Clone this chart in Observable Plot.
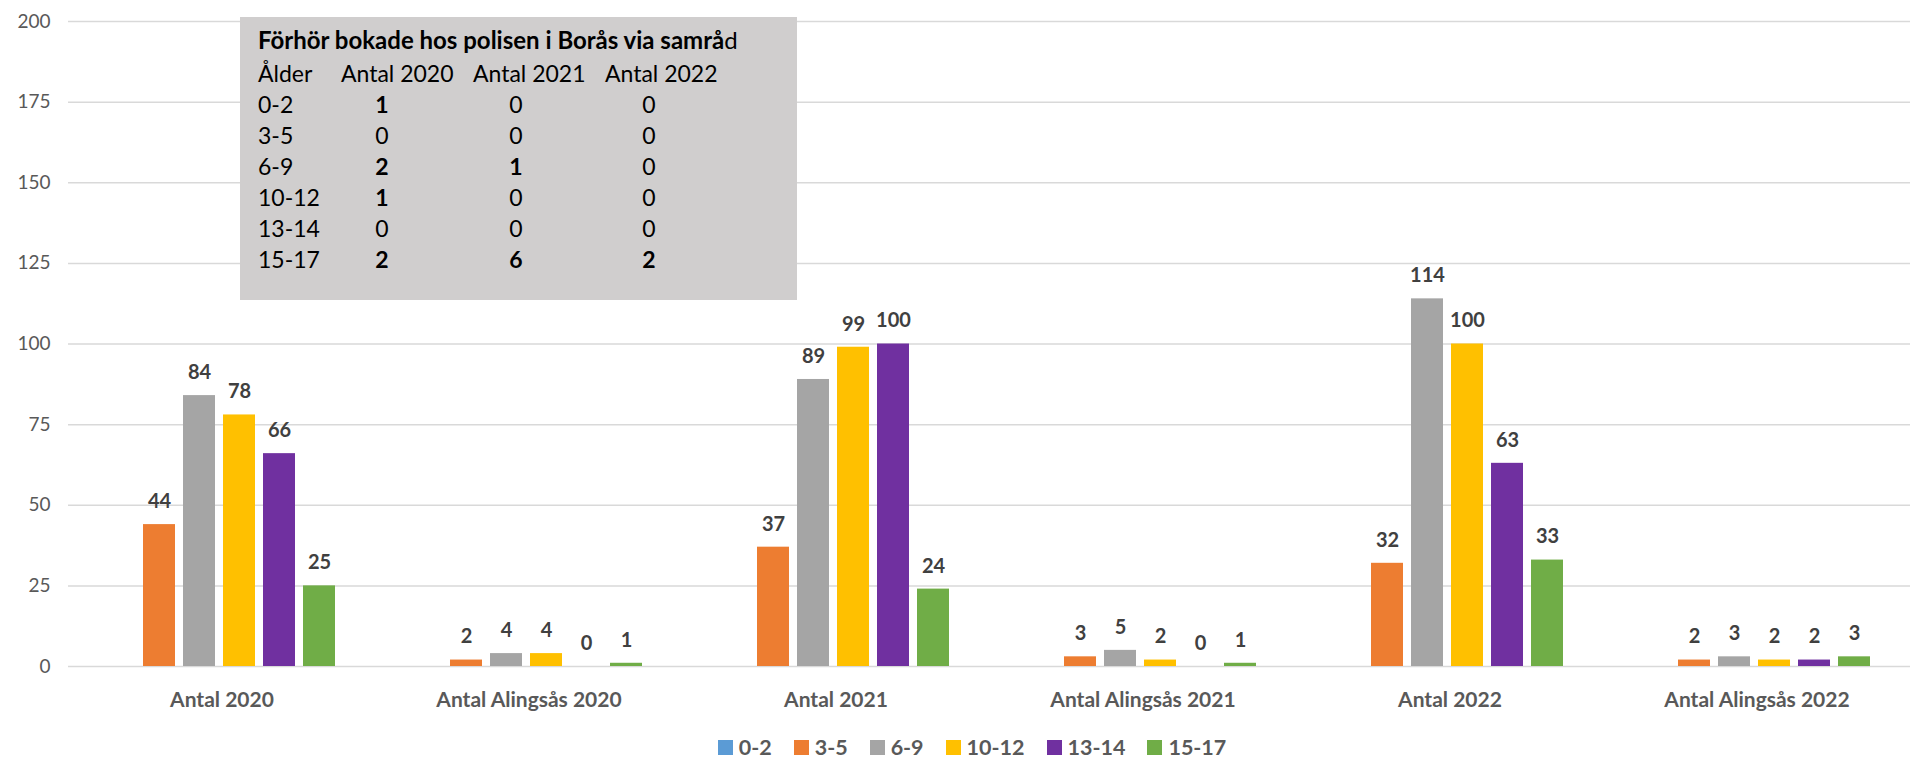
<!DOCTYPE html>
<html>
<head>
<meta charset="utf-8">
<script src="https://cdn.jsdelivr.net/npm/d3@7"></script>
<script src="https://cdn.jsdelivr.net/npm/@observablehq/plot@0.6"></script>
<style>
  html, body { margin: 0; padding: 0; background: #fff; }
  #wrap { position: relative; width: 1910px; height: 762px; font-family: Lato, "Open Sans", sans-serif; }
  #legend { position: absolute; left: 0; top: 736px; width: 1910px; box-sizing: border-box; padding-left: 34px; display: flex; justify-content: center; gap: 22px; font-weight: bold; font-size: 21.5px; line-height: 22px; color: #595959; }
  #legend .item { display: flex; align-items: center; gap: 6px; }
  #legend .sw { width: 15px; height: 15px; display: inline-block; }
  #table { position: absolute; left: 240px; top: 17px; width: 557px; height: 283px; background: #d0cece; color: #000; font-size: 23px; }
  #table div { position: absolute; white-space: nowrap; line-height: 1; transform: translateY(-50%); }
</style>
</head>
<body>
<div id="wrap">
  <div id="chart"></div>
  <div id="table"></div>
  <div id="legend"></div>
</div>
<script>
const categories = ["Antal 2020", "Antal Alingsås 2020", "Antal 2021", "Antal Alingsås 2021", "Antal 2022", "Antal Alingsås 2022"];
const ages = ["0-2", "3-5", "6-9", "10-12", "13-14", "15-17"];
const colors = ["#5b9bd5", "#ed7d31", "#a5a5a5", "#ffc000", "#7030a0", "#70ad47"];
const v_0_2   = [null, null, null, null, null, null];
const v_3_5   = [44, 2, 37, 3, 32, 2];
const v_6_9   = [84, 4, 89, 5, 114, 3];
const v_10_12 = [78, 4, 99, 2, 100, 2];
const v_13_14 = [66, 0, 100, 0, 63, 2];
const v_15_17 = [25, 1, 24, 1, 33, 3];
const yTicks = [0, 25, 50, 75, 100, 125, 150, 175, 200];

// Inset table: Förhör bokade hos polisen i Borås via samråd
const tableTitle = "Förhör bokade hos polisen i Borås via samrå";
const tableTitleTail = "d";
const tableHeader = ["Ålder", "Antal 2020", "Antal 2021", "Antal 2022"];
const tableAges = ["0-2", "3-5", "6-9", "10-12", "13-14", "15-17"];
const t2020 = [1, 0, 2, 1, 0, 2];
const t2021 = [0, 0, 1, 0, 0, 6];
const t2022 = [0, 0, 0, 0, 0, 2];

const series = [v_0_2, v_3_5, v_6_9, v_10_12, v_13_14, v_15_17];
const data = [];
categories.forEach((c, i) => ages.forEach((a, j) => data.push({cat: c, age: a, value: series[j][i]})));
const shown = data.filter(d => d.value != null);

const chart = Plot.plot({
  width: 1910,
  height: 736,
  marginLeft: 67,
  marginRight: 0,
  marginTop: 21,
  marginBottom: 70,
  style: {fontFamily: "Lato, 'Open Sans', sans-serif", background: "#fff"},
  fx: {domain: categories, padding: 0, label: null},
  x: {domain: ages, paddingInner: 0.194, paddingOuter: 0.857, axis: null},
  y: {domain: [0, 200], label: null},
  color: {domain: ages, range: colors},
  marks: [
    Plot.gridY(yTicks, {stroke: "#d9d9d9", strokeOpacity: 1, strokeWidth: 1.5}),
    Plot.barY(shown, {fx: "cat", x: "age", y: "value", fill: "age", dx: -2}),
    Plot.text(shown, {fx: "cat", x: "age", y: "value", text: d => String(d.value), dx: -2, dy: -23, fontWeight: "bold", fontSize: 20, fill: "#404040"}),
    Plot.axisY({ticks: yTicks, tickSize: 0, tickPadding: 18, fontSize: 19, fill: "#595959", label: null}),
    Plot.axisFx({anchor: "bottom", tickSize: 0, tickPadding: 26, fontSize: 21, fontWeight: "bold", fill: "#595959", label: null})
  ]
});
document.getElementById("chart").appendChild(chart);

// legend
const legend = document.getElementById("legend");
ages.forEach((a, i) => {
  const it = document.createElement("div");
  it.className = "item";
  it.innerHTML = `<span class="sw" style="background:${colors[i]}"></span><span>${a}</span>`;
  legend.appendChild(it);
});

// table
const tbl = document.getElementById("table");
function cell(text, x, y, opts = {}) {
  const d = document.createElement("div");
  d.textContent = text;
  d.style.left = x + "px";
  d.style.top = y + "px";
  if (opts.bold) d.style.fontWeight = "bold";
  if (opts.center) d.style.transform = "translate(-50%, -50%)";
  tbl.appendChild(d);
  return d;
}
const title = cell("", 18, 23);
title.style.fontSize = "24px";
title.innerHTML = `<b>${tableTitle}</b>${tableTitleTail}`;
const headerX = [18, 101, 233, 365];
tableHeader.forEach((h, i) => cell(h, headerX[i], 56));
const valX = [142, 276, 409];
tableAges.forEach((a, r) => {
  const y = 87 + r * 31;
  cell(a, 18, y);
  [t2020, t2021, t2022].forEach((col, k) => cell(String(col[r]), valX[k], y, {bold: col[r] !== 0, center: true}));
});
</script>
</body>
</html>
